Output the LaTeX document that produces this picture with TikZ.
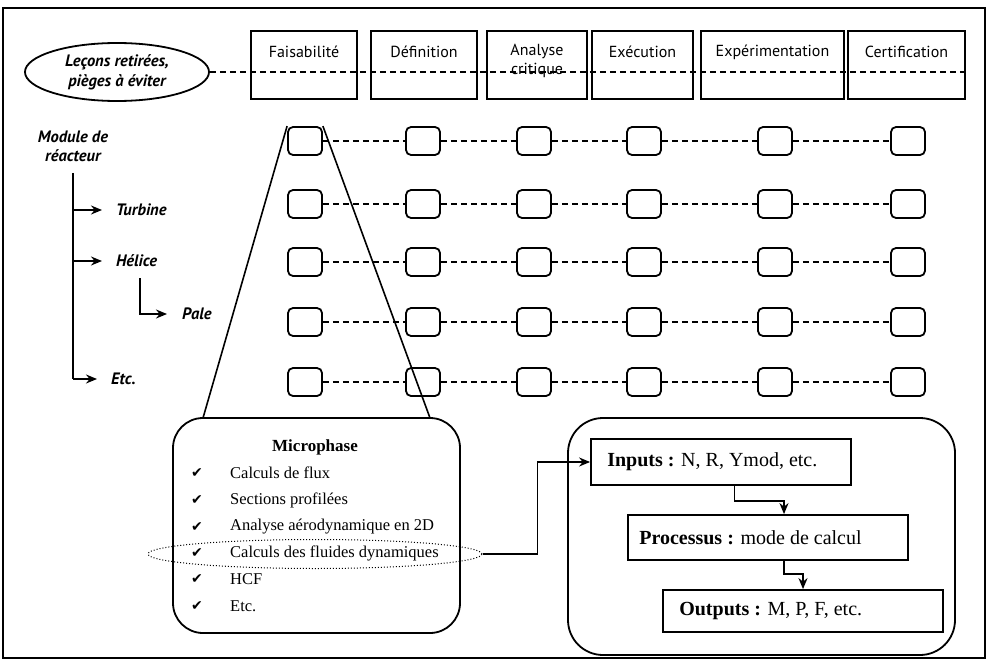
\documentclass[tikz,border=0pt]{standalone}
\usepackage{fontspec}
\setmainfont{Liberation Serif}
\newfontfamily\opt{PT Sans}
\newfontfamily\dvs{DejaVu Sans}
\usetikzlibrary{shapes.geometric,arrows.meta,calc}
\begin{document}
\begin{tikzpicture}[x=1pt,y=-1pt,
  frame/.style={draw,line width=1.2pt},
  phasebox/.style={draw,line width=1.8pt,rectangle,minimum height=68pt,inner sep=0},
  phaselbl/.style={font=\opt\fontsize{16}{19}\selectfont,align=center,inner sep=0},
  sbox/.style={draw,line width=1.8pt,rounded corners=5pt,minimum width=34pt,minimum height=28pt,inner sep=0},
  link/.style={line width=1.5pt,dash pattern=on 6pt off 4pt},
  itlbl/.style={font=\opt\bfseries\itshape\fontsize{16.5}{19}\selectfont,inner sep=0},
  arr/.style={line width=1.6pt,-{Stealth[length=11pt,width=9pt]}},
  solid1/.style={line width=1.6pt},
  bigbox/.style={draw,line width=1.8pt,inner sep=0},
  listtxt/.style={font=\fontsize{16.5}{18}\selectfont,anchor=west,inner sep=0},
  chk/.style={font=\dvs\fontsize{14}{15}\selectfont,inner sep=0},
  procbox/.style={draw,line width=1.8pt,rectangle,inner sep=0},
  ptxt/.style={font=\fontsize{20}{22}\selectfont,anchor=west,inner sep=0}
]
\useasboundingbox (0,0) rectangle (992,671);
\draw[frame] (3,8) rectangle (985,658);

% lessons ellipse
\node[ellipse,draw,line width=1.8pt,minimum width=184pt,minimum height=58pt,align=center,itlbl,font=\opt\bfseries\itshape\fontsize{16.5}{20}\selectfont] (les) at (117,72) {Leçons retirées,\\pièges à éviter};

% phase boxes
\node[phasebox,minimum width=106pt] (p1) at (304,65) {};
\node[phaselbl] (l1) at (304,52) {Faisabilité};
\node[phasebox,minimum width=106pt] (p2) at (424,65) {};
\node[phaselbl] (l2) at (424,52) {Définition};
\node[phasebox,minimum width=100pt] (p3) at (537,65) {};
\node[phaselbl] (l3) at (537,61) {Analyse\\critique};
\node[phasebox,minimum width=101pt] (p4) at (642.5,65) {};
\node[phaselbl] (l4) at (642.5,52) {Exécution};
\node[phasebox,minimum width=143pt] (p5) at (772.5,65) {};
\node[phaselbl] (l5) at (772.5,52) {Expérimentation};
\node[phasebox,minimum width=117pt] (p6) at (906.5,65) {};
\node[phaselbl] (l6) at (906.5,52) {Certification};
\draw[link] (les.east) -- (les.east -| p6.east);

% grid of small boxes
\foreach \r/\y in {1/141,2/204,3/262,4/322,5/382}{
  \foreach \c/\x in {1/305,2/423,3/534,4/644,5/775,6/908}{
    \node[sbox] (b\r\c) at (\x,\y) {};
  }
}
\foreach \r in {1,...,5}{
  \foreach \c [evaluate=\c as \n using int(\c+1)] in {1,...,5}{
    \draw[link] (b\r\c.east) -- (b\r\n.west);
  }
}

% module tree
\node[itlbl,align=center] (mod) at (73,146) {Module de\\réacteur};
\coordinate (trunk) at (73,173);
\coordinate (tend) at (73,379);
\draw[solid1] (trunk) -- (tend);
\node[itlbl,anchor=west] (tur) at (116,210) {Turbine};
\node[itlbl,anchor=west] (hel) at (116,261) {Hélice};
\node[itlbl,anchor=west] (pale) at (182,314) {Pale};
\node[itlbl,anchor=west] (etc) at (111,379) {Etc.};
\draw[arr,shorten >=14pt] (trunk |- tur.west) -- (tur.west);
\draw[arr,shorten >=14pt] (trunk |- hel.west) -- (hel.west);
\draw[arr,shorten >=14pt] (tend) -- (etc.west);
\coordinate (pb) at (140,278);
\draw[arr,shorten >=15pt] (pb) |- (pale.west);

% microphase box and zoom lines
\node[bigbox,rounded corners=30pt,minimum width=287pt,minimum height=215pt] (micro) at (316.5,525.5) {};
\coordinate (tl) at (203,418);
\coordinate (tr) at (430,418);
\draw[solid1] (b11.north west) -- (tl);
\draw[solid1] (b11.north east) -- (tr);
\node[font=\bfseries\fontsize{17}{19}\selectfont,inner sep=0] (mtitle) at (315,447) {Microphase};
\foreach \i/\y/\t in {1/473/{Calculs de flux},2/500/{Sections profilées},3/527/{Analyse aérodynamique en 2D},4/553/{Calculs des fluides dynamiques},5/579/{HCF},6/606/{Etc.}}{
  \node[chk] (c\i) at (197,\y) {✔};
  \node[listtxt] (t\i) at (230,\y) {\t};
}
\node[ellipse,draw,dotted,line width=1pt,minimum width=334pt,minimum height=29pt,inner sep=0] (fl) at (315,554) {};

% right process box
\node[bigbox,rounded corners=35pt,minimum width=387pt,minimum height=237pt] (macro) at (761.5,536.5) {};
\node[procbox,minimum width=260pt,minimum height=46pt] (inp) at (721,462) {};
\node[ptxt] (inpt) at ([xshift=17pt]inp.west) {\textbf{Inputs :} N, R, Ymod, etc.};
\node[procbox,minimum width=280pt,minimum height=45pt] (proc) at (768,537.5) {};
\node[ptxt] (proct) at ([xshift=12pt]proc.west) {\textbf{Processus :} mode de calcul};
\node[procbox,minimum width=280pt,minimum height=42pt] (out) at (803,611) {};
\node[ptxt] (outt) at ([xshift=17pt]out.west) {\textbf{Outputs :} M, P, F, etc.};

\draw[arr] (fl.east) -- ++(55,0) |- (inp.west);
\draw[arr] ([xshift=13.5pt]inp.south) -- ++(0,15) -| ([xshift=16pt]proc.north);
\draw[arr] ([xshift=16pt]proc.south) -- ++(0,13) -| (out.north);
\end{tikzpicture}
\end{document}
